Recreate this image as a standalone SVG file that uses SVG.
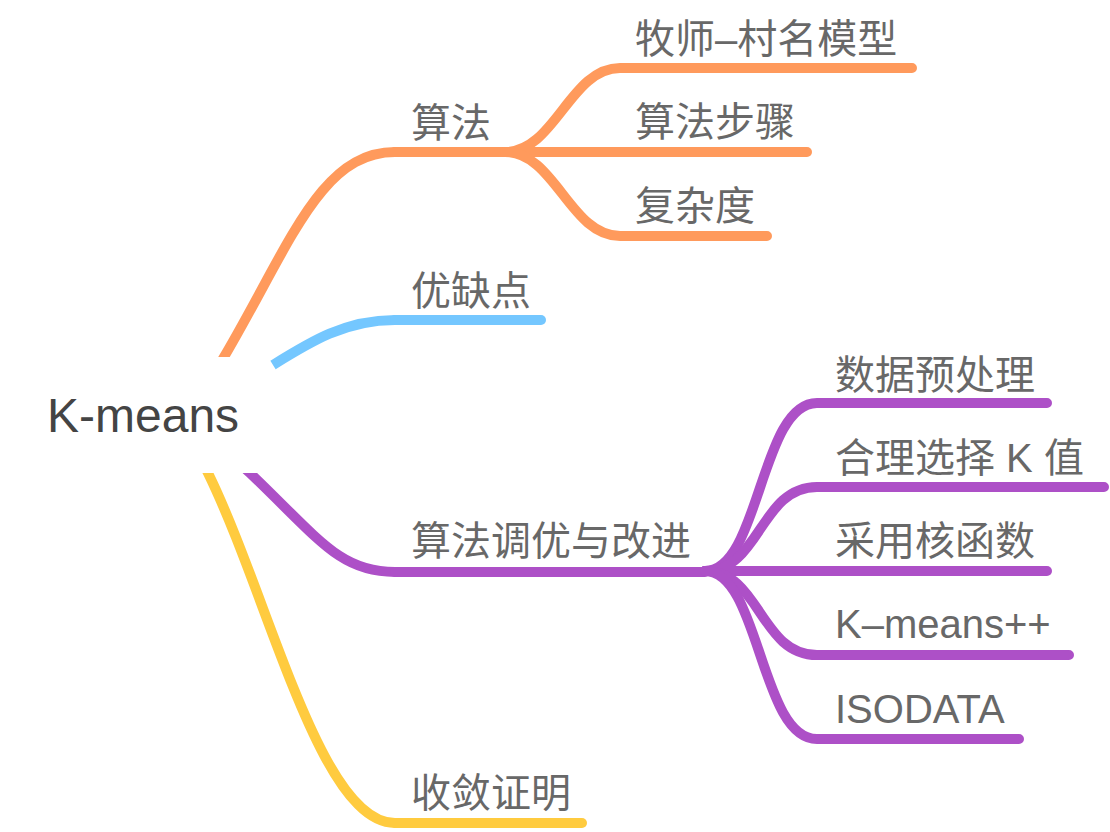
<svg xmlns="http://www.w3.org/2000/svg" width="1110" height="832" viewBox="0 0 1110 832">
<style>
.t{font-family:"Liberation Sans","Noto Sans CJK SC",sans-serif;font-size:40px;fill:#686868}
.root{font-family:"Liberation Sans","Noto Sans CJK SC",sans-serif;font-size:48px;fill:#444444}
.l{fill:none;stroke-width:10}
.or{stroke:#FF9A5C;stroke-linecap:round}
.bl{stroke:#74C7FF;stroke-linecap:round}
.pu{stroke:#AD50C7;stroke-linecap:round}
.ye{stroke:#FFCB3F;stroke-linecap:round}
.s{stroke-linecap:butt}
</style>
<rect width="1110" height="832" fill="#ffffff"/>
<g id="connectors">
  <path class="l or" d="M395,152 L505,152"/>
  <path class="l or s" d="M214,374 L224,357 C290,245 320,152 395,152"/>
  <path class="l or" d="M505,152 C555,152 570,68 620,68 L912,68"/>
  <path class="l or" d="M505,152 L807,152"/>
  <path class="l or" d="M505,152 C555,152 570,236 620,236 L767,236"/>
  <path class="l bl s" d="M273,365 C310,342 345,320 395,320"/>
  <path class="l bl" d="M395,320 L541,320"/>
  <path class="l pu s" d="M238,462 L250,473 C320,540 340,572 395,572"/>
  <path class="l pu" d="M395,572 L705,572"/>
  <path class="l pu" d="M705,571 C760,571 760,403 817,403 L1047,403"/>
  <path class="l pu" d="M705,571 C760,571 760,487 817,487 L1104,487"/>
  <path class="l pu" d="M705,571 L1047,571"/>
  <path class="l pu" d="M705,571 C760,571 760,655 817,655 L1069,655"/>
  <path class="l pu" d="M705,571 C760,571 760,739 817,739 L1019,739"/>
  <path class="l ye s" d="M203,463 L208,473 C270,600 320,823 395,823"/>
  <path class="l ye" d="M395,823 L582,823"/>
</g>
<g id="root">
  <rect x="180" y="357" width="82" height="116" fill="#ffffff"/>
  <text class="root" x="47" y="432">K-means</text>
</g>
<g id="n-suanfa"><text class="t" x="411" y="137">算法</text></g>
<g id="n-mushi"><text class="t" x="635" y="53">牧师–村名模型</text></g>
<g id="n-buzhou"><text class="t" x="635" y="136">算法步骤</text></g>
<g id="n-fuzadu"><text class="t" x="635" y="220">复杂度</text></g>
<g id="n-youquedian"><text class="t" x="411" y="305">优缺点</text></g>
<g id="n-tiaoyou"><text class="t" x="411" y="555">算法调优与改进</text></g>
<g id="n-yuchuli"><text class="t" x="835" y="389">数据预处理</text></g>
<g id="n-k"><text class="t" x="835" y="472">合理选择 K 值</text></g>
<g id="n-hehanshu"><text class="t" x="835" y="555">采用核函数</text></g>
<g id="n-kpp"><text class="t" x="835" y="638">K–means++</text></g>
<g id="n-isodata"><text class="t" x="835" y="723">ISODATA</text></g>
<g id="n-shoulian"><text class="t" x="411" y="807">收敛证明</text></g>
</svg>
